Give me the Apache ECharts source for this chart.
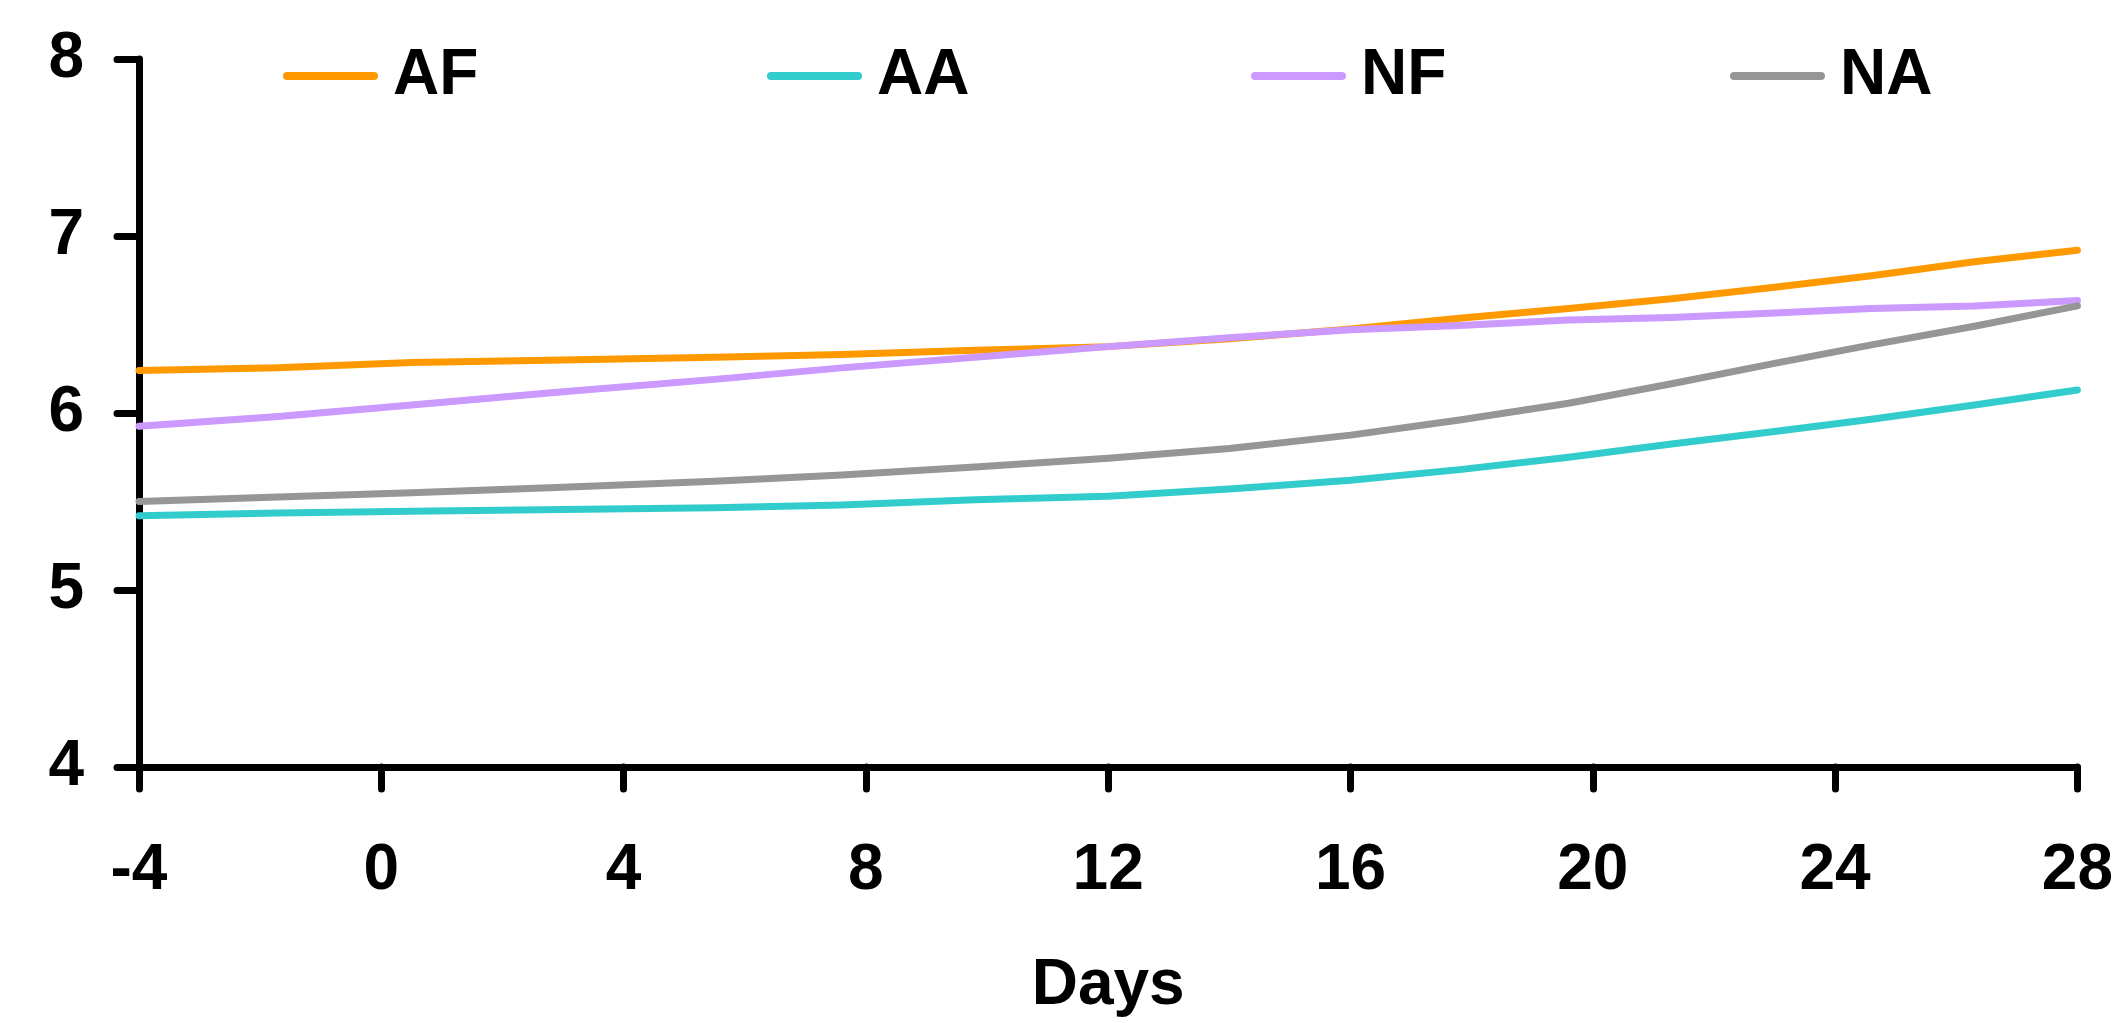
<!DOCTYPE html>
<html>
<head>
<meta charset="utf-8">
<script src="https://cdn.jsdelivr.net/npm/echarts@6/dist/echarts.min.js"></script>
<style>
  html, body { margin: 0; padding: 0; background: #ffffff; }
  #chart { width: 2116px; height: 1023px; }
</style>
</head>
<body>
<div id="chart"></div>
<script>
// ---- data ----
const days = [-4, -1.7, 0.5, 3, 5.5, 7.6, 9.8, 12, 14, 16, 17.8, 19.6, 21.3, 23, 24.6, 26.3, 28];
const seriesNames = ['AF', 'AA', 'NF', 'NA'];
const AF = [6.24, 6.255, 6.285, 6.30, 6.315, 6.33, 6.355, 6.375, 6.42, 6.475, 6.535, 6.59, 6.645, 6.71, 6.775, 6.855, 6.92];
const AA = [5.42, 5.435, 5.445, 5.455, 5.465, 5.48, 5.51, 5.53, 5.57, 5.62, 5.68, 5.75, 5.825, 5.895, 5.965, 6.045, 6.13];
const NF = [5.925, 5.98, 6.045, 6.12, 6.19, 6.255, 6.315, 6.375, 6.425, 6.47, 6.495, 6.525, 6.54, 6.565, 6.59, 6.605, 6.635];
const NA = [5.50, 5.525, 5.55, 5.58, 5.615, 5.65, 5.695, 5.745, 5.80, 5.875, 5.96, 6.055, 6.165, 6.28, 6.385, 6.49, 6.605];
const colors = ['#FF9900', '#33CCCC', '#CC99FF', '#969696'];
const xAxisName = 'Days';

const values = [AF, AA, NF, NA];
const legendLeft = [278, 762, 1246, 1725];

const chart = echarts.init(document.getElementById('chart'), null, { renderer: 'canvas' });

const tickFont = { fontFamily: '"Liberation Sans", Arial, sans-serif', fontWeight: 'bold', fontSize: 64, color: '#000' };
const boldFont = { fontFamily: '"Liberation Sans", Arial, sans-serif', fontWeight: 'bold', fontSize: 64, color: '#000' };

const axisLineStyle = { color: '#000', width: 7, cap: 'round' };
const pillIcon = 'path://M4,0 L91,0 A4,4 0 0 1 91,8 L4,8 A4,4 0 0 1 4,0 Z';

chart.setOption({
  animation: false,
  backgroundColor: '#ffffff',
  grid: { left: 139, right: 36, top: 59, bottom: 246, containLabel: false },
  legend: seriesNames.map((n, i) => ({
    data: [{ name: n, icon: pillIcon, itemStyle: { color: colors[i] } }],
    left: legendLeft[i],
    top: 39,
    itemWidth: 95,
    itemHeight: 8,
    textStyle: Object.assign({}, boldFont, { padding: [0, 0, 0, 10] }),
    selectedMode: false
  })),
  xAxis: {
    type: 'value',
    min: -4, max: 28, interval: 4,
    name: xAxisName,
    nameLocation: 'middle',
    nameGap: 187,
    nameTextStyle: boldFont,
    axisLine: { show: true, onZero: false, lineStyle: axisLineStyle },
    axisTick: { show: true, length: 22, lineStyle: axisLineStyle },
    axisLabel: Object.assign({}, tickFont, { margin: 72 }),
    splitLine: { show: false }
  },
  yAxis: {
    type: 'value',
    min: 4, max: 8, interval: 1,
    axisLine: { show: true, onZero: false, lineStyle: axisLineStyle },
    axisTick: { show: true, length: 22, lineStyle: axisLineStyle },
    axisLabel: Object.assign({}, tickFont, { margin: 55 }),
    splitLine: { show: false }
  },
  series: seriesNames.map((n, i) => ({
    name: n,
    type: 'line',
    data: days.map((d, j) => [d, values[i][j]]),
    symbol: 'none',
    smooth: false,
    color: colors[i],
    lineStyle: { color: colors[i], width: 7, cap: 'round', join: 'round' },
    z: 2 + i
  }))
});
</script>
</body>
</html>
